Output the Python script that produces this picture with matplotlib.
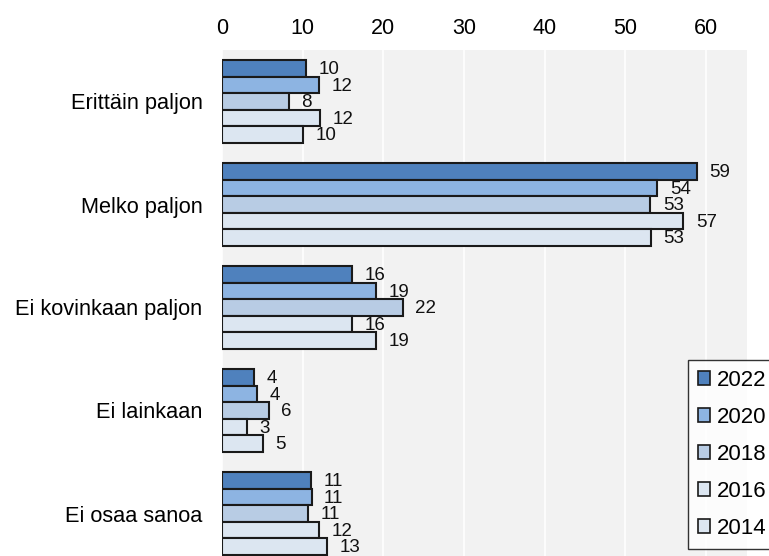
import matplotlib
matplotlib.use("Agg")
import matplotlib.pyplot as plt
from matplotlib.patches import Patch
import numpy as np

plt.rcParams['font.family'] = ['Liberation Sans', 'DejaVu Sans']

categories = ["Erittäin paljon", "Melko paljon", "Ei kovinkaan paljon", "Ei lainkaan", "Ei osaa sanoa"]
years = ["2022", "2020", "2018", "2016", "2014"]
values = {
    "2022": [10.4, 58.9, 16.1, 4.0, 11.0],
    "2020": [12.0, 54.0, 19.1, 4.3, 11.1],
    "2018": [8.3, 53.1, 22.4, 5.8, 10.7],
    "2016": [12.2, 57.2, 16.1, 3.1, 12.0],
    "2014": [10.0, 53.2, 19.1, 5.1, 13.0],
}
labels = {
    "2022": [10, 59, 16, 4, 11],
    "2020": [12, 54, 19, 4, 11],
    "2018": [8, 53, 22, 6, 11],
    "2016": [12, 57, 16, 3, 12],
    "2014": [10, 53, 19, 5, 13],
}
colors = {
    "2022": "#4F81BD",
    "2020": "#8DB4E2",
    "2018": "#B8CCE4",
    "2016": "#DCE6F1",
    "2014": "#DCE6F1",
}
xticks = [0, 10, 20, 30, 40, 50, 60]

fig = plt.figure(figsize=(7.69, 5.56), dpi=100)
ax = fig.add_axes([222/769, -9/556, (747-222)/769, (565-50)/556])
ax.set_facecolor("#F2F2F2")

y = np.arange(len(categories))
h = 0.16
for i, yr in enumerate(years):
    off = (i - 2) * h
    ax.barh(y + off, values[yr], height=h, color=colors[yr], edgecolor="#1a1a1a",
            linewidth=1.5, zorder=3)
    for yy, v, lab in zip(y + off, values[yr], labels[yr]):
        ax.annotate(str(lab), (v, yy), xytext=(9, -1), textcoords="offset points",
                    ha="left", va="center", fontsize=13.5, color="#111111", zorder=4)

ax.set_xlim(0, 65.1)
ax.set_ylim(len(categories) - 0.5, -0.5)
ax.set_xticks(xticks)
ax.set_xticklabels([str(t) for t in xticks], fontsize=15.5)
ax.xaxis.tick_top()
ax.tick_params(axis="x", length=0, pad=8)
ax.set_yticks(y)
ax.set_yticklabels(categories, fontsize=15.7)
ax.tick_params(axis="y", length=0, pad=14)
ax.grid(axis="x", color="white", linewidth=1.2, zorder=1)
ax.set_axisbelow(True)
for s in ax.spines.values():
    s.set_visible(False)

handles = [Patch(facecolor=colors[yr], edgecolor="#1a1a1a", linewidth=1.2, label=yr) for yr in years]
leg = fig.legend(handles=handles, loc="upper left", bbox_to_anchor=(688/769, 1-360/556),
                 fontsize=16, frameon=True, fancybox=False, edgecolor="black",
                 handlelength=0.55, handleheight=0.55, handletextpad=0.3,
                 labelspacing=0.72, borderpad=0.45, borderaxespad=0)
leg.get_frame().set_linewidth(1.0)

fig.savefig("out.png", dpi=100)
